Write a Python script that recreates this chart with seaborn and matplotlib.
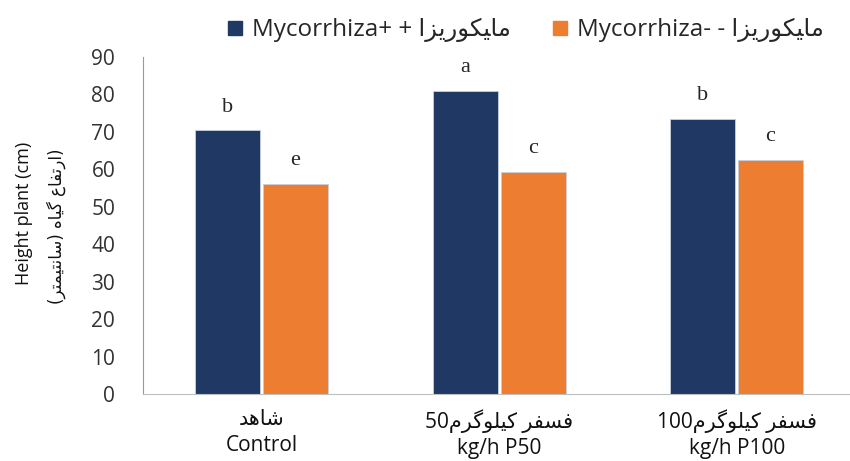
import matplotlib
matplotlib.use("Agg")
import matplotlib.pyplot as plt
import seaborn as sns
import pandas as pd
from matplotlib.lines import Line2D

# Pre-shaped Persian words (presentation forms, visual order)
MYCO_FA = "\uFE8D\uFEB0\uFEF3\uFEAD\uFEEE\uFEDC\uFEF4\uFE8E\uFEE3"
KG_FA = "\uFEE1\uFEAE\uFB94\uFEEE\uFEE0\uFEF4\uFEDB"
FASFAR = "\uFEAE\uFED4\uFEB4\uFED3"
SHAHED = "\uFEAA\uFEEB\uFE8E\uFEB7"
ERTEFA = "\uFEC9\uFE8E\uFED4\uFE97\uFEAD\uFE8D"
GIAH = "\uFEE9\uFE8E\uFEF4\uFB94"
SANTI = "\uFEAE\uFE98\uFEE4\uFEF4\uFE98\uFEE7\uFE8E\uFEB3"

categories = [SHAHED + "\nControl",
              "50" + KG_FA + " " + FASFAR + "\nkg/h P50",
              "100" + KG_FA + " " + FASFAR + "\nkg/h P100"]
series = ["Mycorrhiza+ + " + MYCO_FA, "Mycorrhiza- - " + MYCO_FA]
myc_plus = [70.4, 81.0, 73.5]
myc_minus = [56.2, 59.2, 62.6]
letters_plus = ["b", "a", "b"]
letters_minus = ["e", "c", "c"]
yticks = [0, 10, 20, 30, 40, 50, 60, 70, 80, 90]

colors = ["#1F3864", "#ED7D31"]

df = pd.DataFrame({
    "cat": categories * 2,
    "grp": [series[0]] * 3 + [series[1]] * 3,
    "val": myc_plus + myc_minus,
})

sns.set_style("white")
plt.rcParams["font.family"] = ["Open Sans", "DejaVu Sans"]

fig = plt.figure(figsize=(8.5, 4.61), dpi=100)
ax = fig.add_axes([0.1682, 0.1453, 0.8382, 0.731])

sns.barplot(data=df, x="cat", y="val", hue="grp", order=categories,
            hue_order=series, palette=colors, saturation=1, width=0.57, gap=0.04,
            edgecolor="#c8d0dc", linewidth=0.6, ax=ax, legend=False)

ax.set_xlim(-0.5, 2.5)
ax.set_ylim(0, 90)
ax.set_yticks(yticks)
ax.set_yticklabels([str(t) for t in yticks], fontsize=15, color="#333333")
ax.set_xticks(range(3))
ax.set_xticklabels(categories, fontsize=15, color="#111111", linespacing=1.3)
ax.set_xticks([0.5, 1.5], minor=True)
ax.tick_params(axis="x", which="major", length=0, pad=11)
ax.tick_params(axis="x", which="minor", length=10, color="#bfbfbf", width=1, direction="out")
ax.tick_params(axis="y", which="major", length=8, color="#999999", width=1, direction="out", pad=12)
ax.set_xlabel("")
ax.set_ylabel("")
for s in ["top", "right"]:
    ax.spines[s].set_visible(False)
ax.spines["left"].set_color("#999999")
ax.spines["bottom"].set_color("#bfbfbf")

# significance letters
hue_off = 0.57 / 4
for i in range(3):
    ax.annotate(letters_plus[i], (i - hue_off, myc_plus[i]), xytext=(0, 10),
                textcoords="offset points", ha="center", va="bottom",
                fontsize=16, family="Liberation Serif")
    ax.annotate(letters_minus[i], (i + hue_off, myc_minus[i]), xytext=(0, 10),
                textcoords="offset points", ha="center", va="bottom",
                fontsize=16, family="Liberation Serif")

# y label (two lines)
fig.text(0.028, 0.538, "Height plant (cm)", rotation=90, ha="center", va="center",
         fontsize=13, color="#111111")
fig.text(0.066, 0.51, "(" + SANTI + ") " + GIAH + " " + ERTEFA + ")", rotation=90,
         ha="center", va="center", fontsize=12, color="#111111",
         family=["DejaVu Sans"])

handles = [Line2D([0], [0], marker="s", linestyle="none", markersize=10,
                  markerfacecolor=c, markeredgecolor=c) for c in colors]
fig.legend(handles, series, loc="center", bbox_to_anchor=(0.617, 0.935), ncol=2,
           frameon=False, fontsize=17.5, handletextpad=0.3, columnspacing=1.6,
           handlelength=0.8)

fig.savefig("out.png", dpi=100)
